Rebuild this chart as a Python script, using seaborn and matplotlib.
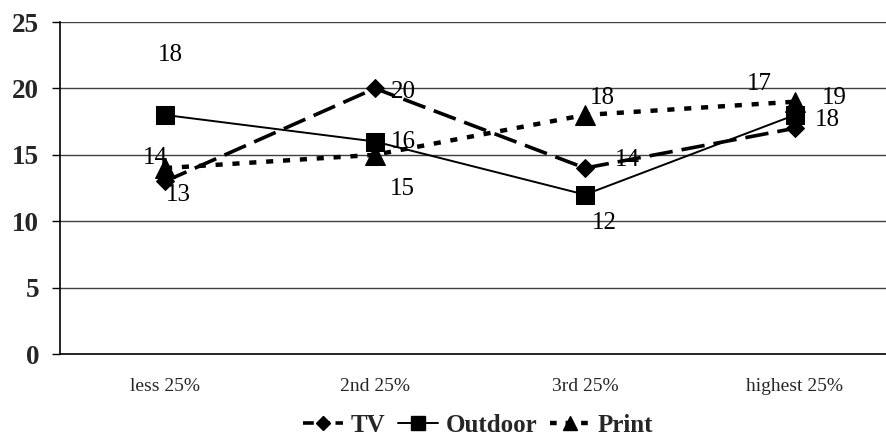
import matplotlib
matplotlib.use("Agg")
import matplotlib.pyplot as plt
import seaborn as sns
import pandas as pd
from matplotlib.lines import Line2D

categories = ["less 25%", "2nd 25%", "3rd 25%", "highest 25%"]
tv = [13, 20, 14, 17]
outdoor = [18, 16, 12, 18]
printv = [14, 15, 18, 19]
series_names = ["TV", "Outdoor", "Print"]
y_ticks = [0, 5, 10, 15, 20, 25]

# label offsets in pixels (style only)
label_offsets = {
    "TV": [(13, -14), (28, -4), (42, 8), (-36, 44)],
    "Outdoor": [(5, 60), (28, 0), (19, -28), (32, -5)],
    "Print": [(-10, 10), (27, -34), (17, 17), (39, 4)],
}

sns.set_theme(style="white")
plt.rcParams["font.family"] = ["Liberation Serif", "DejaVu Serif"]

df = pd.DataFrame({
    "cat": categories * 3,
    "val": tv + outdoor + printv,
    "series": ["TV"] * 4 + ["Outdoor"] * 4 + ["Print"] * 4,
})

fig = plt.figure(figsize=(8.87, 4.4), dpi=100)
ax = fig.add_axes([60 / 887, 1 - 354 / 440, 840 / 887, 332 / 440])

styles = {
    "TV": dict(marker="D", dashes=(6.5, 2.5), lw=2.6, ms=9.5),
    "Outdoor": dict(marker="s", dashes=None, lw=1.4, ms=13.5),
    "Print": dict(marker="^", dashes=(1.6, 2.2), lw=3.2, ms=15),
}

handles = []
for name in series_names:
    sub = df[df.series == name]
    st = styles[name]
    sns.lineplot(data=sub, x="cat", y="val", ax=ax, color="black", sort=False,
                 marker=st["marker"], markersize=st["ms"], markeredgecolor="black",
                 markerfacecolor="black", linewidth=st["lw"], legend=False)
    line = ax.lines[-1]
    if st["dashes"] is not None:
        line.set_dashes(st["dashes"])
    h = Line2D([], [], color="black", lw=st["lw"], marker=st["marker"],
               markersize=st["ms"] * 0.7, markerfacecolor="black")
    if st["dashes"] is not None:
        h.set_dashes((3, 1.5) if name == "TV" else (1.5, 2.0))
    handles.append(h)
    for i, v in enumerate(sub["val"].tolist()):
        dx, dy = label_offsets[name][i]
        ax.annotate(str(v), (i, v), xytext=(dx, dy), textcoords="offset pixels",
                    ha="center", va="center", fontsize=18, color="black")

ax.set_xlim(-0.5, 3.5)
ax.set_ylim(0, 25)
ax.set_yticks(y_ticks)
ax.set_yticklabels([str(t) for t in y_ticks], fontsize=19.5, fontweight="bold")
ax.set_xticks(range(len(categories)))
ax.set_xticklabels(categories, fontsize=14)
ax.tick_params(axis="x", which="major", length=0, pad=17)
ax.set_xticks([-0.5, 0.5, 1.5, 2.5], minor=True)
ax.tick_params(axis="x", which="minor", length=6, width=1, color="black", direction="out")
ax.tick_params(axis="y", length=6, width=1, color="black", direction="out", left=True, pad=9)
ax.set_xlabel("")
ax.set_ylabel("")
for yv in y_ticks[1:]:
    ax.axhline(yv, color="#404040", lw=1, zorder=0)
for s in ["top", "right"]:
    ax.spines[s].set_visible(False)
for s in ["left", "bottom"]:
    ax.spines[s].set_color("black")
    ax.spines[s].set_linewidth(1.2)

fig.legend(handles, series_names, loc="center", bbox_to_anchor=(478 / 887, 1 - 425 / 440),
           ncol=3, frameon=False, handlelength=1.6, handletextpad=0.3, columnspacing=0.5,
           prop={"weight": "bold", "size": 18, "family": "Liberation Serif"})

fig.savefig("out.png", dpi=100)
